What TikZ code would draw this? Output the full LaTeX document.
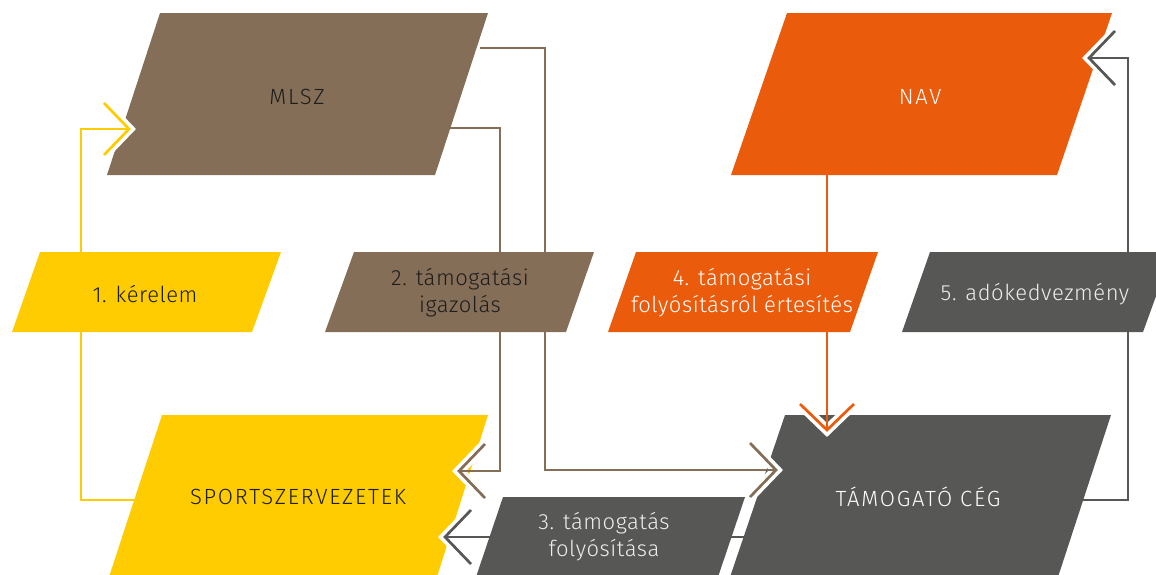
\documentclass[tikz,border=0pt]{standalone}
\usepackage{fontspec}
\setmainfont{Fira Sans}[UprightFont=* Light, LetterSpace=2.5]
\newfontfamily\capsfont{Fira Sans}[UprightFont=* Light, LetterSpace=8]
\definecolor{cbrown}{HTML}{856E58}
\definecolor{cyellow}{HTML}{FECC00}
\definecolor{corange}{HTML}{EA5B0C}
\definecolor{cgray}{HTML}{575756}
\definecolor{cdark}{HTML}{1D1D1B}
\tikzset{
  lbl/.style={align=center, font=\fontsize{22}{27}\selectfont, inner sep=0pt},
  caplbl/.style={align=center, font=\capsfont\fontsize{22}{27}\selectfont, inner sep=0pt},
  conn/.style={line width=2.7pt, line join=miter},
  halo/.style={white, line width=10pt, line join=miter},
}
\newcommand\arrowV[5]{%
  \draw[halo] (#2) -- (#3) -- (#4);
  \draw[conn,#1] #5;
  \draw[conn,#1] (#2) -- (#3) -- (#4);}
\begin{document}
\begin{tikzpicture}[x=1pt,y=-1pt]
\useasboundingbox (0,0) rectangle (1156,574);
\clip (0,0) rectangle (1156,574);
% big shapes
\fill[cbrown] (160,13) -- (488,13) -- (435,175) -- (107,175) -- cycle;
\fill[corange] (787,13) -- (1112,13) -- (1057,175) -- (731,175) -- cycle;
\fill[cyellow] (162,415) -- (488,415) -- (436,580) -- (108,580) -- cycle;
\fill[cgray] (785,415) -- (1111,415) -- (1057,580) -- (729,580) -- cycle;
\node[caplbl, text=cdark] (mlsz) at (297,97) {MLSZ};
\node[caplbl, text=white] (nav) at (920,97) {NAV};
\node[caplbl, text=cdark] (sport) at (298,497) {SPORTSZERVEZETEK};
\node[caplbl, text=white] (ceg) at (918,497) {TÁMOGATÓ CÉG};
% connector coordinates
\coordinate (y0) at (135,500); \coordinate (y1) at (81,500); \coordinate (y2) at (81,129); \coordinate (y3) at (129,129);
\coordinate (ya) at (104,103); \coordinate (yb) at (104,155);
\coordinate (b0) at (440,128); \coordinate (b1) at (500,128); \coordinate (b2) at (500,471); \coordinate (b3) at (459,471);
\coordinate (ba) at (485,444); \coordinate (bb) at (485,498);
\coordinate (c0) at (480,48); \coordinate (c1) at (545,48); \coordinate (c2) at (545,470); \coordinate (c3) at (776,470);
\coordinate (ca) at (750,443); \coordinate (cb) at (750,497);
\coordinate (o0) at (827,170); \coordinate (o3) at (827,430);
\coordinate (oa) at (800,404); \coordinate (ob) at (854,404);
\coordinate (g0) at (1080,500); \coordinate (g1) at (1128,500); \coordinate (g2) at (1128,58); \coordinate (g3) at (1089,58);
\coordinate (ga) at (1115,31); \coordinate (gb) at (1115,85);
\coordinate (h0) at (745,537); \coordinate (h3) at (445,537);
\coordinate (ha) at (471,510); \coordinate (hb) at (471,564);
% connectors
\arrowV{cyellow}{ya}{y3}{yb}{(y0) -- (y1) -- (y2) -- (y3)}
\arrowV{cbrown}{ba}{b3}{bb}{(b0) -- (b1) -- (b2) -- (b3)}
\arrowV{cbrown}{ca}{c3}{cb}{(c0) -- (c1) -- (c2) -- (c3)}
\arrowV{corange}{oa}{o3}{ob}{(o0) -- (o3)}
\arrowV{cgray}{ga}{g3}{gb}{(g0) -- (g1) -- (g2) -- (g3)}
\arrowV{cgray}{ha}{h3}{hb}{(h0) -- (h3)}
% middle boxes
\fill[cyellow] (40,252) -- (281,252) -- (252,332) -- (12,332) -- cycle;
\node[lbl, text=cdark] (k1) at (145,294) {1. kérelem};
\fill[cbrown] (354,252) -- (594,252) -- (566,332) -- (325,332) -- cycle;
\node[lbl, text=cdark] (k2) at (460,293) {2. támogatási\\igazolás};
\fill[corange] (636,252) -- (878,252) -- (850,332) -- (608,332) -- cycle;
\node[lbl, text=white] (k4) at (742,293) {4. támogatási\\folyósításról értesítés};
\fill[cgray] (930,252) -- (1172,252) -- (1143,332) -- (902,332) -- cycle;
\node[lbl, text=white!93!black] (k5) at (1035,294) {5. adókedvezmény};
\fill[cgray] (503,497) -- (745,497) -- (718,577) -- (476,577) -- cycle;
\node[lbl, text=white!93!black] (k3) at (604,537) {3. támogatás\\folyósítása};
\end{tikzpicture}
\end{document}
